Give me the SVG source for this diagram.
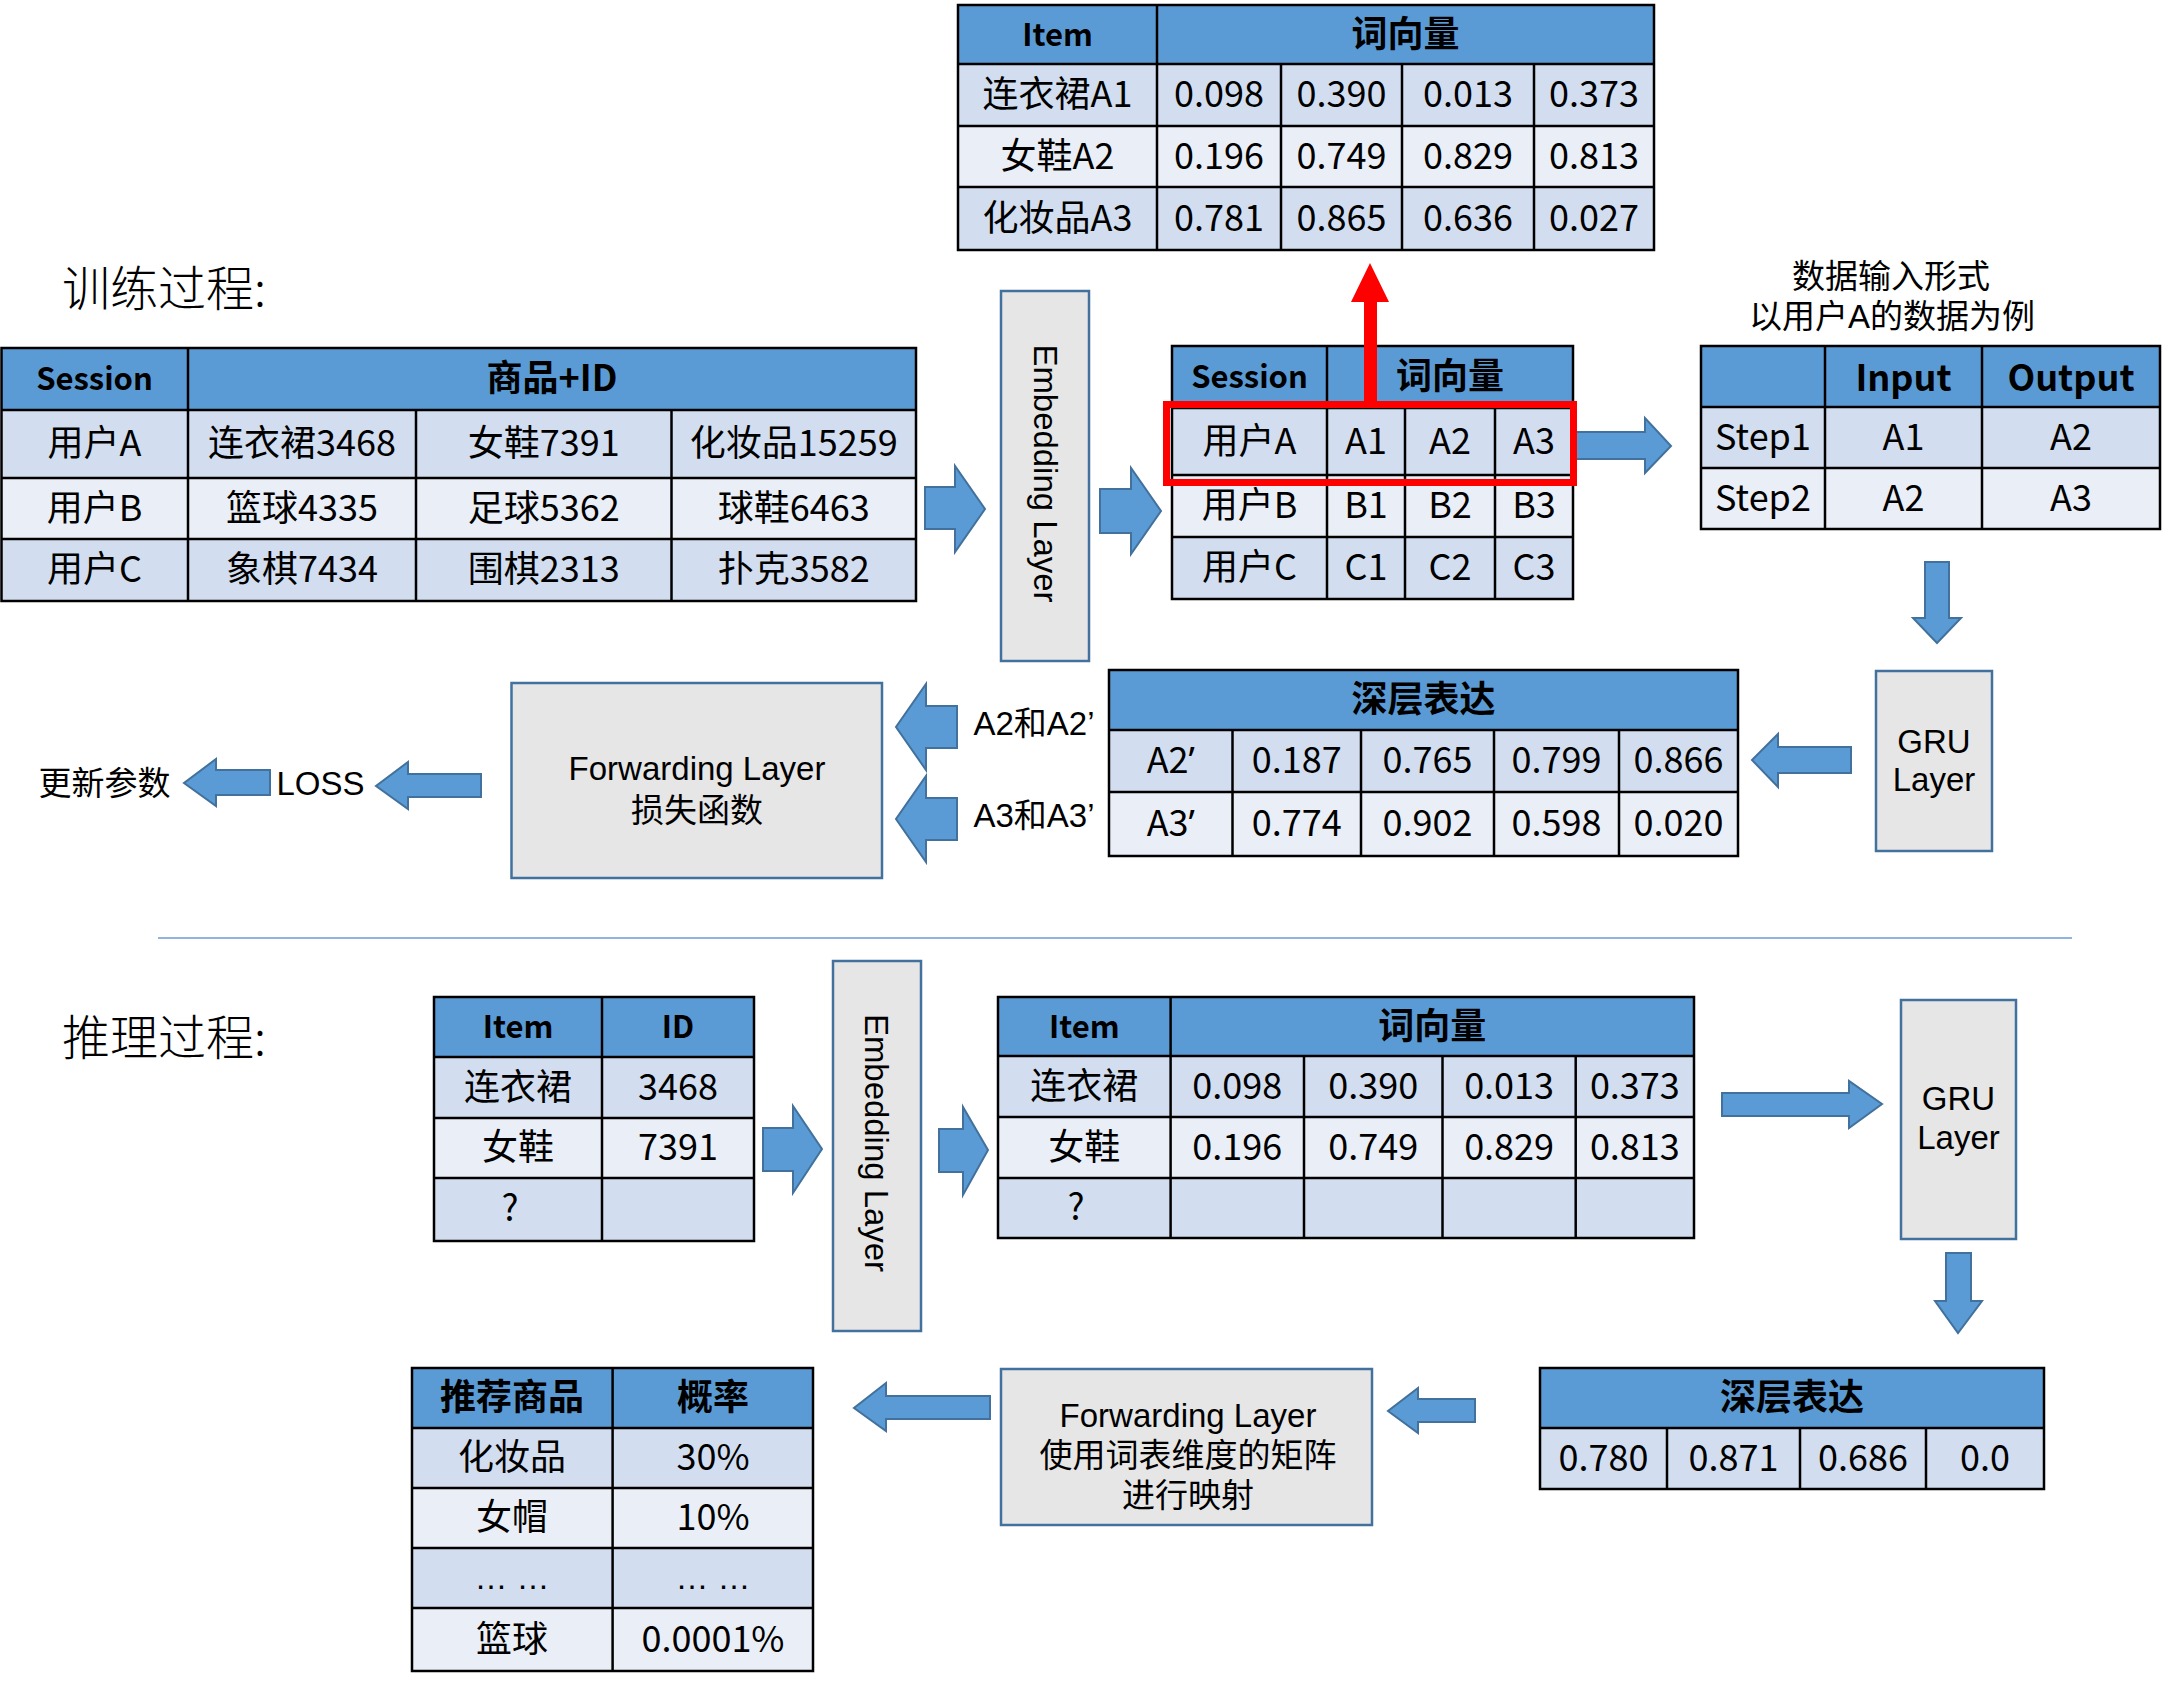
<svg xmlns="http://www.w3.org/2000/svg" width="2162" height="1684" viewBox="0 0 2162 1684">
<style>
.hd{fill:#5B9BD5}
.r1{fill:#D2DEEF}
.r2{fill:#EAEFF7}
.grid{stroke:#000;stroke-width:2.5;fill:none}
.t{font-family:"Noto Sans CJK SC","Noto Sans",sans-serif;font-size:36px;text-anchor:middle;fill:#000}
.th{font-weight:bold}
.lt{font-size:31px}
.q{font-family:"Noto Sans",sans-serif}
.lbl{font-family:"Liberation Sans","Noto Sans CJK SC",sans-serif;font-size:33px;text-anchor:middle;fill:#000}
.title{font-family:"Noto Sans CJK SC",sans-serif;font-size:48px;font-weight:300;fill:#000}
.box{fill:#E6E6E6;stroke:#41719C;stroke-width:2.5}
.arr{fill:#5B9BD5;stroke:#41719C;stroke-width:2}
</style>
<rect width="2162" height="1684" fill="#fff"/>

<text class="title" x="62" y="306">训练过程:</text>
<text class="title" x="62" y="1055">推理过程:</text>
<line x1="158" y1="938" x2="2072" y2="938" stroke="#8FB4E0" stroke-width="2"/>

<!-- T1 Item / 词向量 (top) -->
<g id="table-item-vector-train">
<rect class="hd" x="958" y="5" width="696" height="59"/>
<rect class="r1" x="958" y="64" width="696" height="62"/>
<rect class="r2" x="958" y="126" width="696" height="61"/>
<rect class="r1" x="958" y="187" width="696" height="63"/>
<path class="grid" d="M958 5H1654V250H958Z M958 64H1654 M958 126H1654 M958 187H1654 M1157 5V250 M1281 64V250 M1402 64V250 M1534 64V250"/>
<text class="t th lt" x="1057.5" y="46">Item</text>
<text class="t th" x="1405.5" y="47">词向量</text>
<text class="t" x="1057.5" y="107">连衣裙A1</text>
<text class="t" x="1219" y="107">0.098</text>
<text class="t" x="1341.5" y="107">0.390</text>
<text class="t" x="1468" y="107">0.013</text>
<text class="t" x="1594" y="107">0.373</text>
<text class="t" x="1057.5" y="168.5">女鞋A2</text>
<text class="t" x="1219" y="168.5">0.196</text>
<text class="t" x="1341.5" y="168.5">0.749</text>
<text class="t" x="1468" y="168.5">0.829</text>
<text class="t" x="1594" y="168.5">0.813</text>
<text class="t" x="1057.5" y="230.5">化妆品A3</text>
<text class="t" x="1219" y="230.5">0.781</text>
<text class="t" x="1341.5" y="230.5">0.865</text>
<text class="t" x="1468" y="230.5">0.636</text>
<text class="t" x="1594" y="230.5">0.027</text>
</g>

<!-- T2 Session / 商品+ID -->
<g id="table-session-goods">
<rect class="hd" x="1.5" y="348" width="914.5" height="62"/>
<rect class="r1" x="1.5" y="410" width="914.5" height="68"/>
<rect class="r2" x="1.5" y="478" width="914.5" height="61"/>
<rect class="r1" x="1.5" y="539" width="914.5" height="62"/>
<path class="grid" d="M1.5 348H916V601H1.5Z M1.5 410H916 M1.5 478H916 M1.5 539H916 M188 348V601 M416 410V601 M671.5 410V601"/>
<text class="t th lt" x="94.5" y="390">Session</text>
<text class="t th" x="552" y="391">商品+ID</text>
<text class="t" x="94.5" y="456">用户A</text>
<text class="t" x="302" y="456">连衣裙3468</text>
<text class="t" x="543.75" y="456">女鞋7391</text>
<text class="t" x="793.75" y="456">化妆品15259</text>
<text class="t" x="94.5" y="520.5">用户B</text>
<text class="t" x="302" y="520.5">篮球4335</text>
<text class="t" x="543.75" y="520.5">足球5362</text>
<text class="t" x="793.75" y="520.5">球鞋6463</text>
<text class="t" x="94.5" y="582">用户C</text>
<text class="t" x="302" y="582">象棋7434</text>
<text class="t" x="543.75" y="582">围棋2313</text>
<text class="t" x="793.75" y="582">扑克3582</text>
</g>

<!-- Embedding Layer (train) -->
<g id="embedding-train">
<rect class="box" x="1001" y="291" width="88" height="370"/>
<text class="lbl" font-size="36" textLength="258" lengthAdjust="spacingAndGlyphs" transform="translate(1034,473.5) rotate(90)">Embedding Layer</text>
</g>

<!-- T3 Session / 词向量 -->
<g id="table-session-vector">
<rect class="hd" x="1172" y="346" width="401" height="62"/>
<rect class="r1" x="1172" y="408" width="401" height="67"/>
<rect class="r2" x="1172" y="475" width="401" height="62"/>
<rect class="r1" x="1172" y="537" width="401" height="62"/>
<path class="grid" d="M1172 346H1573V599H1172Z M1172 408H1573 M1172 475H1573 M1172 537H1573 M1327 346V599 M1405 408V599 M1495 408V599"/>
<text class="t th lt" x="1249.5" y="388">Session</text>
<text class="t th" x="1450" y="389">词向量</text>
<text class="t" x="1249.5" y="453.5">用户A</text>
<text class="t" x="1366" y="453.5">A1</text>
<text class="t" x="1450" y="453.5">A2</text>
<text class="t" x="1534" y="453.5">A3</text>
<text class="t" x="1249.5" y="518">用户B</text>
<text class="t" x="1366" y="518">B1</text>
<text class="t" x="1450" y="518">B2</text>
<text class="t" x="1534" y="518">B3</text>
<text class="t" x="1249.5" y="580">用户C</text>
<text class="t" x="1366" y="580">C1</text>
<text class="t" x="1450" y="580">C2</text>
<text class="t" x="1534" y="580">C3</text>
</g>

<!-- Input/Output caption -->
<g id="caption-input">
<text class="lbl" x="1891" y="288">数据输入形式</text>
<text class="lbl" x="1892" y="328">以用户A的数据为例</text>
</g>

<!-- T4 Input / Output -->
<g id="table-input-output">
<rect class="hd" x="1701" y="346" width="459" height="61"/>
<rect class="r1" x="1701" y="407" width="459" height="61"/>
<rect class="r2" x="1701" y="468" width="459" height="61"/>
<path class="grid" d="M1701 346H2160V529H1701Z M1701 407H2160 M1701 468H2160 M1825 346V529 M1982 346V529"/>
<text class="t th" font-size="40" x="1903.5" y="391">Input</text>
<text class="t th" font-size="40" x="2071" y="391">Output</text>
<text class="t" x="1763" y="450">Step1</text>
<text class="t" x="1903.5" y="450">A1</text>
<text class="t" x="2071" y="450">A2</text>
<text class="t" x="1763" y="511">Step2</text>
<text class="t" x="1903.5" y="511">A2</text>
<text class="t" x="2071" y="511">A3</text>
</g>

<!-- GRU (train) -->
<g id="gru-train">
<rect class="box" x="1876" y="671" width="116" height="180"/>
<text class="lbl" x="1934" y="753">GRU</text>
<text class="lbl" x="1934" y="791">Layer</text>
</g>

<!-- T5 深层表达 (train) -->
<g id="table-deep-train">
<rect class="hd" x="1109" y="670" width="629" height="60"/>
<rect class="r1" x="1109" y="730" width="629" height="62"/>
<rect class="r2" x="1109" y="792" width="629" height="64"/>
<path class="grid" d="M1109 670H1738V856H1109Z M1109 730H1738 M1109 792H1738 M1232.5 730V856 M1361 730V856 M1494 730V856 M1619 730V856"/>
<text class="t th" x="1423.5" y="712">深层表达</text>
<text class="t" x="1170.75" y="773">A2<tspan class="q">’</tspan></text>
<text class="t" x="1296.75" y="773">0.187</text>
<text class="t" x="1427.5" y="773">0.765</text>
<text class="t" x="1556.5" y="773">0.799</text>
<text class="t" x="1678.5" y="773">0.866</text>
<text class="t" x="1170.75" y="836">A3<tspan class="q">’</tspan></text>
<text class="t" x="1296.75" y="836">0.774</text>
<text class="t" x="1427.5" y="836">0.902</text>
<text class="t" x="1556.5" y="836">0.598</text>
<text class="t" x="1678.5" y="836">0.020</text>
</g>

<!-- Forwarding Layer (train) -->
<g id="forwarding-train">
<rect class="box" x="511.5" y="683" width="370.5" height="195"/>
<text class="lbl" x="697" y="780">Forwarding Layer</text>
<text class="lbl" x="697" y="822">损失函数</text>
</g>

<g id="label-a2">
<text class="lbl" font-size="32" x="1034" y="735">A2和A2’</text>
</g>
<g id="label-a3">
<text class="lbl" font-size="32" x="1034" y="827">A3和A3’</text>
</g>
<g id="label-loss">
<text class="lbl" font-size="32" x="320.5" y="795">LOSS</text>
</g>
<g id="label-update">
<text class="lbl" font-size="32" x="104.5" y="795">更新参数</text>
</g>

<!-- T6 Item / ID -->
<g id="table-item-id">
<rect class="hd" x="434" y="997" width="320" height="60"/>
<rect class="r1" x="434" y="1057" width="320" height="61"/>
<rect class="r2" x="434" y="1118" width="320" height="60"/>
<rect class="r1" x="434" y="1178" width="320" height="63"/>
<path class="grid" d="M434 997H754V1241H434Z M434 1057H754 M434 1118H754 M434 1178H754 M602 997V1241"/>
<text class="t th lt" x="518" y="1038">Item</text>
<text class="t th lt" x="678" y="1038">ID</text>
<text class="t" x="518" y="1099.5">连衣裙</text>
<text class="t" x="678" y="1099.5">3468</text>
<text class="t" x="518" y="1160">女鞋</text>
<text class="t" x="678" y="1160">7391</text>
<text class="t" x="510" y="1221">?</text>
</g>

<!-- Embedding Layer (infer) -->
<g id="embedding-infer">
<rect class="box" x="833" y="961" width="88" height="370"/>
<text class="lbl" font-size="36" textLength="258" lengthAdjust="spacingAndGlyphs" transform="translate(865,1143) rotate(90)">Embedding Layer</text>
</g>

<!-- T7 Item / 词向量 (infer) -->
<g id="table-item-vector-infer">
<rect class="hd" x="998" y="997" width="696" height="59"/>
<rect class="r1" x="998" y="1056" width="696" height="61"/>
<rect class="r2" x="998" y="1117" width="696" height="61"/>
<rect class="r1" x="998" y="1178" width="696" height="60"/>
<path class="grid" d="M998 997H1694V1238H998Z M998 1056H1694 M998 1117H1694 M998 1178H1694 M1170.6 997V1238 M1304 1056V1238 M1442.5 1056V1238 M1575.7 1056V1238"/>
<text class="t th lt" x="1084.3" y="1038">Item</text>
<text class="t th" x="1432.3" y="1039">词向量</text>
<text class="t" x="1084.3" y="1098.5">连衣裙</text>
<text class="t" x="1237.3" y="1098.5">0.098</text>
<text class="t" x="1373.25" y="1098.5">0.390</text>
<text class="t" x="1509.1" y="1098.5">0.013</text>
<text class="t" x="1634.85" y="1098.5">0.373</text>
<text class="t" x="1084.3" y="1159.5">女鞋</text>
<text class="t" x="1237.3" y="1159.5">0.196</text>
<text class="t" x="1373.25" y="1159.5">0.749</text>
<text class="t" x="1509.1" y="1159.5">0.829</text>
<text class="t" x="1634.85" y="1159.5">0.813</text>
<text class="t" x="1076" y="1220">?</text>
</g>

<!-- GRU (infer) -->
<g id="gru-infer">
<rect class="box" x="1901" y="1000" width="115" height="239"/>
<text class="lbl" x="1958.5" y="1110">GRU</text>
<text class="lbl" x="1958.5" y="1149">Layer</text>
</g>

<!-- T9 深层表达 (infer) -->
<g id="table-deep-infer">
<rect class="hd" x="1540" y="1368" width="504" height="60"/>
<rect class="r1" x="1540" y="1428" width="504" height="61"/>
<path class="grid" d="M1540 1368H2044V1489H1540Z M1540 1428H2044 M1667 1428V1489 M1800 1428V1489 M1926 1428V1489"/>
<text class="t th" x="1792" y="1410">深层表达</text>
<text class="t" x="1603.5" y="1470.5">0.780</text>
<text class="t" x="1733.5" y="1470.5">0.871</text>
<text class="t" x="1863" y="1470.5">0.686</text>
<text class="t" x="1985" y="1470.5">0.0</text>
</g>

<!-- Forwarding Layer (infer) -->
<g id="forwarding-infer">
<rect class="box" x="1001" y="1369" width="371" height="156"/>
<text class="lbl" x="1188" y="1427">Forwarding Layer</text>
<text class="lbl" x="1188" y="1467">使用词表维度的矩阵</text>
<text class="lbl" x="1188" y="1507">进行映射</text>
</g>

<!-- T8 推荐商品 / 概率 -->
<g id="table-recommend">
<rect class="hd" x="412" y="1368" width="401" height="60"/>
<rect class="r1" x="412" y="1428" width="401" height="60"/>
<rect class="r2" x="412" y="1488" width="401" height="60"/>
<rect class="r1" x="412" y="1548" width="401" height="60"/>
<rect class="r2" x="412" y="1608" width="401" height="63"/>
<path class="grid" d="M412 1368H813V1671H412Z M412 1428H813 M412 1488H813 M412 1548H813 M412 1608H813 M612.6 1368V1671"/>
<text class="t th" x="512" y="1410">推荐商品</text>
<text class="t th" x="713" y="1410">概率</text>
<text class="t" x="512" y="1470">化妆品</text>
<text class="t" x="713" y="1470">30%</text>
<text class="t" x="512" y="1530">女帽</text>
<text class="t" x="713" y="1530">10%</text>
<text class="lbl" font-size="24" x="512" y="1589">… …</text>
<text class="lbl" font-size="24" x="713" y="1589">… …</text>
<text class="t" x="512" y="1651.5">篮球</text>
<text class="t" x="713" y="1651.5">0.0001%</text>
</g>

<!-- connectors -->
<g id="connectors">
<polygon class="arr" points="925,487 955,487 955,466 985,509 955,552 955,529 925,529"/>
<polygon class="arr" points="1100,489 1131,489 1131,468 1161,511 1131,554 1131,533 1100,533"/>
<polygon class="arr" points="1573,432 1645,432 1645,418 1671,446 1645,473 1645,459 1573,459"/>
<polygon class="arr" points="1925,562 1949,562 1949,618 1961,618 1937,643 1913,618 1925,618"/>
<polygon class="arr" points="1851,747 1778,747 1778,734 1752,760 1778,787 1778,773 1851,773"/>
<polygon class="arr" points="957,706 926,706 926,684 896,727 926,770 926,748 957,748"/>
<polygon class="arr" points="957,798 926,798 926,776 896,819 926,862 926,840 957,840"/>
<polygon class="arr" points="481,774 408,774 408,762 376,786 408,809 408,797 481,797"/>
<polygon class="arr" points="270,770 216,770 216,759 184,783 216,806 216,795 270,795"/>
<polygon class="arr" points="763,1128 793,1128 793,1106 822,1149 793,1193 793,1171 763,1171"/>
<polygon class="arr" points="939,1129 963,1129 963,1107 988,1150 963,1195 963,1172 939,1172"/>
<polygon class="arr" points="1722,1093 1849,1093 1849,1081 1882,1104 1849,1128 1849,1116 1722,1116"/>
<polygon class="arr" points="1946,1253 1971,1253 1971,1301 1982,1301 1958,1333 1935,1301 1946,1301"/>
<polygon class="arr" points="1475,1399 1418,1399 1418,1388 1388,1411 1418,1433 1418,1422 1475,1422"/>
<polygon class="arr" points="990,1396 886,1396 886,1383 854,1408 886,1431 886,1419 990,1419"/>
<polygon points="1364,404 1364,302 1351,302 1370,263 1389,302 1377,302 1377,404" fill="#FF0000"/>
<rect x="1166.5" y="404.5" width="407" height="78" fill="none" stroke="#FF0000" stroke-width="7"/>
</g>
</svg>
